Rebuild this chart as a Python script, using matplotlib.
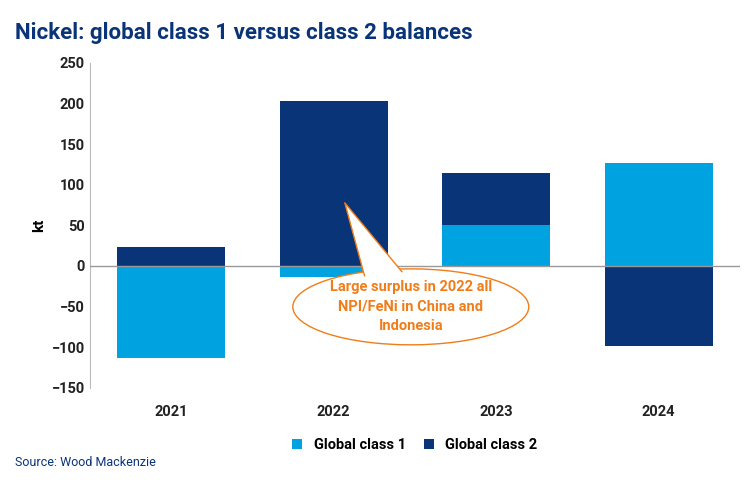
import matplotlib.pyplot as plt
from matplotlib.patches import Ellipse, Polygon

years = ["2021", "2022", "2023", "2024"]
class1 = [-113, -14, 50, 127]
class2 = [23, 203, 65, -98]
yticks = [-150, -100, -50, 0, 50, 100, 150, 200, 250]

plt.rcParams['font.family'] = ['Roboto', 'DejaVu Sans']
c1, c2 = "#00A3E0", "#0A3478"
fig = plt.figure(figsize=(7.55, 4.8), dpi=100)
ax = fig.add_axes([0.119, 0.192, 0.861, 0.677])
x = list(range(len(years)))
ax.bar(x, class1, width=0.665, color=c1, label="Global class 1", zorder=2)
bottoms = [c if (c > 0) == (v > 0) else 0 for c, v in zip(class1, class2)]
ax.bar(x, class2, width=0.665, bottom=bottoms, color=c2, label="Global class 2", zorder=2)
ax.set_xlim(-0.5, 3.5)
ax.set_ylim(-150, 250)
ax.set_yticks(yticks)
ax.set_xticks(x, years)
ax.axhline(0, color="#999999", lw=1, zorder=3)
for s in ["top", "right", "bottom"]:
    ax.spines[s].set_visible(False)
ax.spines["left"].set_color("#bbbbbb")
ax.tick_params(length=0, labelsize=10.5, colors="#222222")
for t in ax.get_xticklabels() + ax.get_yticklabels():
    t.set_fontweight("bold")
ax.xaxis.set_tick_params(pad=12)
ax.set_ylabel("kt", fontweight="bold", fontsize=11)

orange = "#F07D1A"
ell = Ellipse((1.475, -50.3), 1.452, 93.5, facecolor="white", edgecolor=orange, lw=1, zorder=5)
ax.add_patch(ell)
tip = (1.069, 77.7)
b1, b2 = (1.19, -12), (1.42, -7)
ax.add_patch(Polygon([b1, tip, b2], closed=True, facecolor="white", edgecolor="none", zorder=6))
ax.plot([b1[0], tip[0], b2[0]], [b1[1], tip[1], b2[1]], color=orange, lw=1, zorder=7)
ax.text(1.475, -50.3, "Large surplus in 2022 all\nNPI/FeNi in China and\nIndonesia", ha="center", va="center",
        color=orange, fontsize=10.5, fontweight="bold", linespacing=1.5, zorder=8)

ax.legend(loc="upper center", bbox_to_anchor=(0.5, -0.115), ncol=2, frameon=False,
          prop={"weight": "bold", "size": 10.5}, handlelength=0.7, handleheight=0.7, columnspacing=1.2)
fig.text(0.02, 0.955, "Nickel: global class 1 versus class 2 balances", color=c2, fontsize=16,
         fontweight="bold", va="top")
fig.text(0.02, 0.03, "Source: Wood Mackenzie", color=c2, fontsize=9)
fig.savefig("out.png", dpi=100)
